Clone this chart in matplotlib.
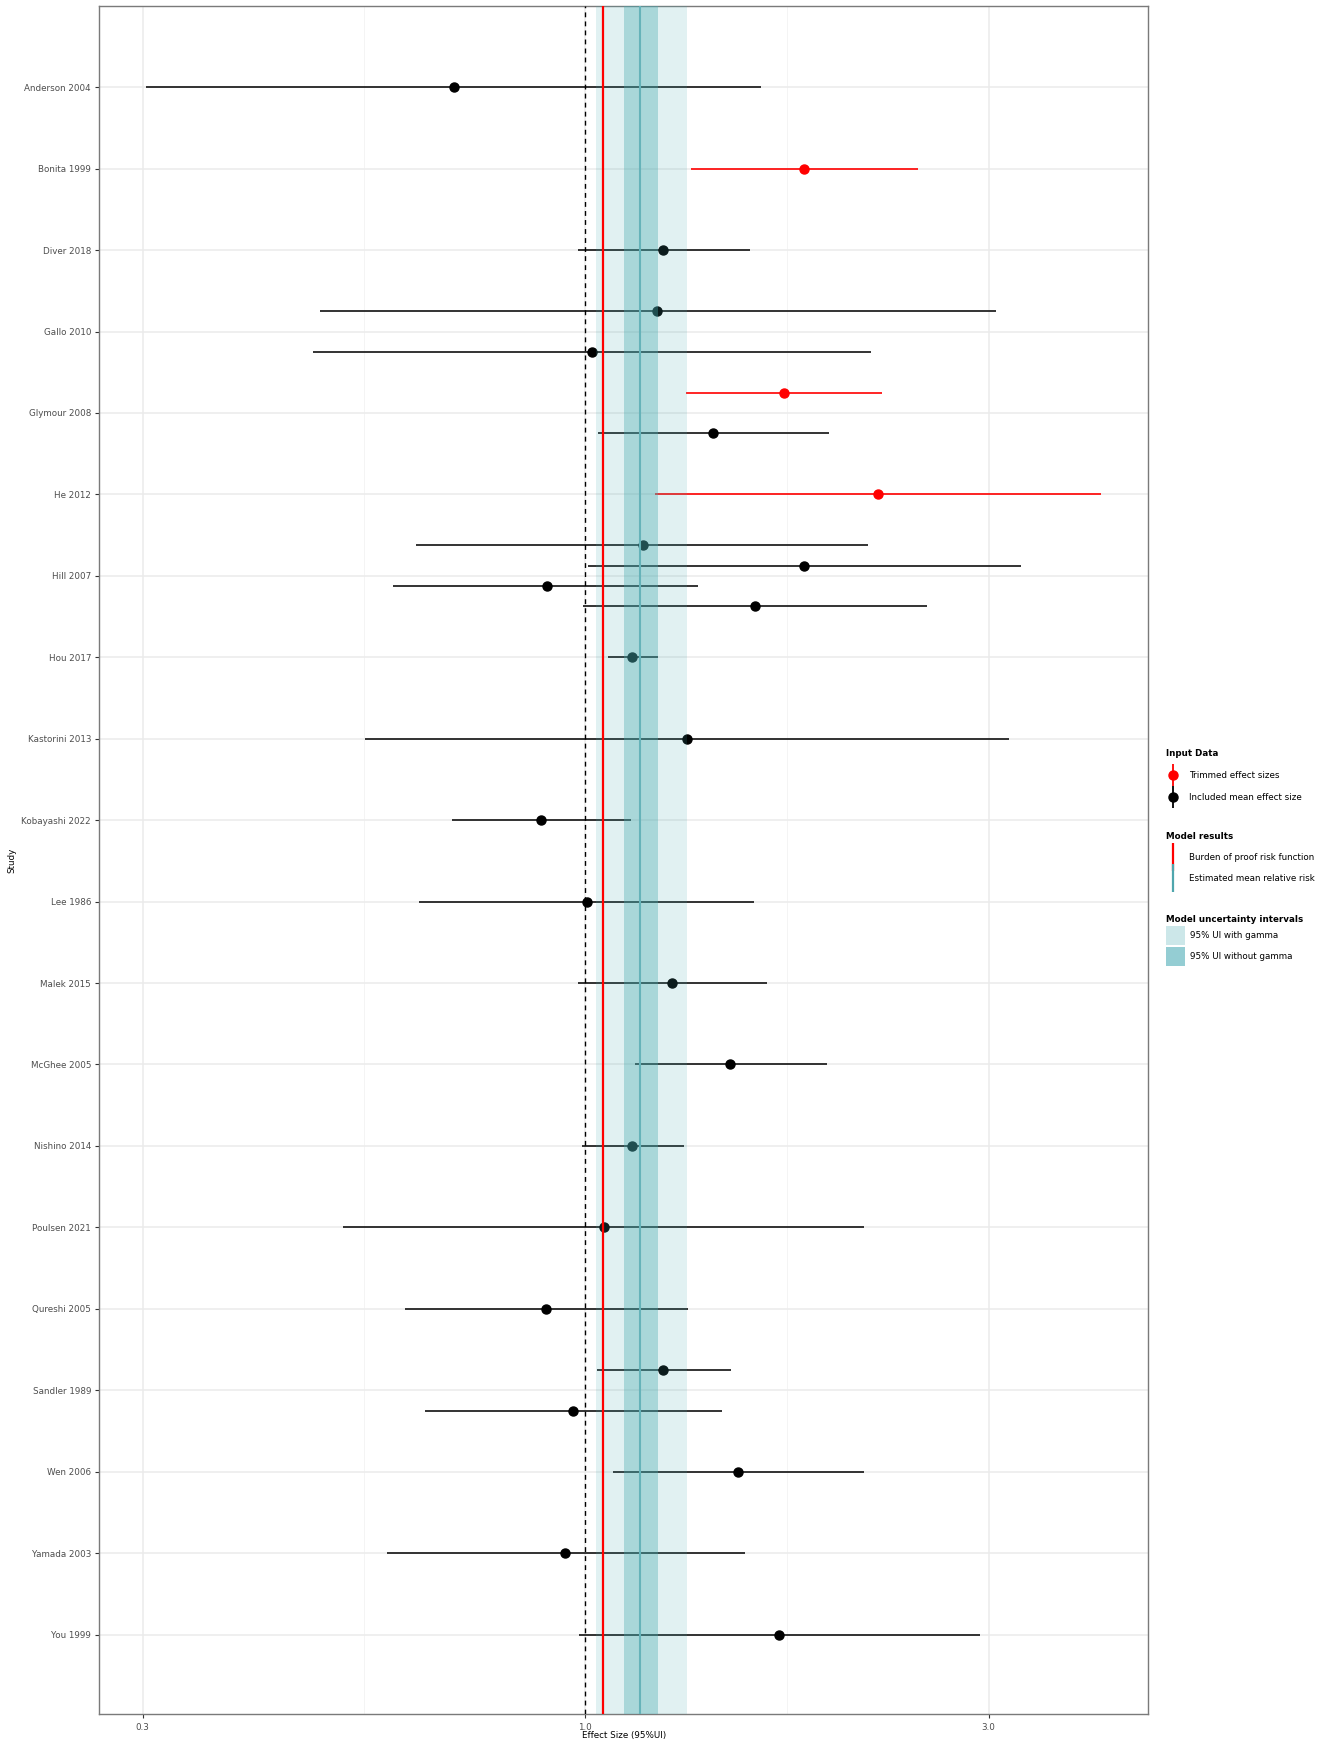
import numpy as np
import matplotlib
matplotlib.use('Agg')
import matplotlib.pyplot as plt
from matplotlib.lines import Line2D
from matplotlib.patches import Patch

# studies, top to bottom
studies = ['Anderson 2004', 'Bonita 1999', 'Diver 2018', 'Gallo 2010', 'Glymour 2008',
           'He 2012', 'Hill 2007', 'Hou 2017', 'Kastorini 2013', 'Kobayashi 2022',
           'Lee 1986', 'Malek 2015', 'McGhee 2005', 'Nishino 2014', 'Poulsen 2021',
           'Qureshi 2005', 'Sandler 1989', 'Wen 2006', 'Yamada 2003', 'You 1999']

# one entry per effect size (several per study for Gallo, Glymour, Hill, Sandler)
effect_study = ['Anderson 2004', 'Bonita 1999', 'Diver 2018',
                'Gallo 2010', 'Gallo 2010',
                'Glymour 2008', 'Glymour 2008',
                'He 2012',
                'Hill 2007', 'Hill 2007', 'Hill 2007', 'Hill 2007',
                'Hou 2017', 'Kastorini 2013', 'Kobayashi 2022', 'Lee 1986',
                'Malek 2015', 'McGhee 2005', 'Nishino 2014', 'Poulsen 2021',
                'Qureshi 2005',
                'Sandler 1989', 'Sandler 1989',
                'Wen 2006', 'Yamada 2003', 'You 1999']
effect_mean = [0.700, 1.814, 1.238,
               1.218, 1.018,
               1.718, 1.418,
               2.218,
               1.170, 1.817, 0.901, 1.588,
               1.138, 1.320, 0.888, 1.006,
               1.268, 1.486, 1.138, 1.052,
               0.899,
               1.238, 0.969,
               1.517, 0.948, 1.696]
effect_lower = [0.303, 1.335, 0.980,
                0.486, 0.477,
                1.315, 1.035,
                1.209,
                0.631, 1.009, 0.593, 0.996,
                1.064, 0.549, 0.696, 0.637,
                0.980, 1.147, 0.993, 0.517,
                0.612,
                1.032, 0.647,
                1.078, 0.583, 0.984]
effect_upper = [1.614, 2.476, 1.565,
                3.060, 2.178,
                2.247, 1.945,
                4.076,
                2.162, 3.280, 1.362, 2.535,
                1.220, 3.168, 1.134, 1.585,
                1.641, 1.931, 1.311, 2.138,
                1.325,
                1.489, 1.452,
                2.138, 1.548, 2.930]
trimmed = [False, True, False,
           False, False,
           True, False,
           True,
           False, False, False, False,
           False, False, False, False,
           False, False, False, False,
           False,
           False, False,
           False, False, False]

# model results
bopr_rr = 1.05
mean_rr = 1.161
ui_gamma = (1.031, 1.320)
ui_no_gamma = (1.111, 1.221)

plt.rcParams['font.family'] = 'DejaVu Sans'
fs = 6.3

fig = plt.figure(figsize=(13.33, 17.44), dpi=100)
ax = fig.add_axes([0.0746, 0.0170, 0.7866, 0.9797])

# dodge effects that share a study row
study_pos = {s: i + 1 for i, s in enumerate(studies)}
ypos = []
for i, s in enumerate(effect_study):
    members = [j for j, t in enumerate(effect_study) if t == s]
    n = len(members)
    k = members.index(i)
    ypos.append(study_pos[s] + (k - (n - 1) / 2.0) / n)
ypos = np.array(ypos)

for y, m, lo, hi, tr in zip(ypos, effect_mean, effect_lower, effect_upper, trimmed):
    col = 'red' if tr else '#111111'
    ax.hlines(y, lo, hi, color=col, lw=1.2, zorder=3)
    ax.plot(m, y, 'o', color='red' if tr else 'black', ms=6.5, zorder=3.5)

# uncertainty bands go over the data, semi transparent
teal = (70 / 255., 170 / 255., 175 / 255.)
ax.axvspan(ui_gamma[0], ui_gamma[1], color=teal, alpha=0.16, lw=0, zorder=4)
ax.axvspan(ui_no_gamma[0], ui_no_gamma[1], color=teal, alpha=0.36, lw=0, zorder=5)
ax.axvline(mean_rr, color='#66b3b9', lw=1.5, zorder=6)
ax.axvline(bopr_rr, color='red', lw=1.6, zorder=7)
ax.axvline(1.0, color='black', lw=1.0, ls=(0, (3.5, 3)), zorder=7)

ax.set_xscale('log')
ax.set_xlim(0.2667, 4.63)
ax.set_xticks([0.3, 1.0, 3.0])
ax.set_xticklabels(['0.3', '1.0', '3.0'])
ax.set_xticks([np.sqrt(0.3 * 1.0), np.sqrt(1.0 * 3.0)], minor=True)
ax.set_xticklabels([], minor=True)
ax.tick_params(axis='x', which='minor', length=0)

ax.set_yticks(range(1, len(studies) + 1))
ax.set_yticklabels(studies)
ax.set_ylim(20.98, 0.0)

ax.grid(True, which='major', color='#ebebeb', lw=1.1, zorder=0)
ax.grid(True, which='minor', axis='x', color='#f2f2f2', lw=0.6, zorder=0)
ax.set_axisbelow(True)

ax.tick_params(axis='both', which='major', labelsize=fs, labelcolor='#4d4d4d',
               color='#333333', length=3, width=0.8, pad=3)
for sp in ax.spines.values():
    sp.set_color('#7a7a7a')
    sp.set_linewidth(1.0)

ax.set_xlabel('Effect Size (95%UI)', fontsize=fs)
ax.xaxis.set_label_coords(0.5, -0.0095)
ax.set_ylabel('Study', fontsize=fs)
ax.yaxis.set_label_coords(-0.079, 0.5)

# legends on the right
title_font = {'weight': 'bold', 'size': fs}
h_trim = (Line2D([], [], marker='|', ms=16, mew=1.3, color='red', ls='None'),
          Line2D([], [], marker='o', ms=6.5, color='red', ls='None'))
h_incl = (Line2D([], [], marker='|', ms=16, mew=1.3, color='black', ls='None'),
          Line2D([], [], marker='o', ms=6.5, color='black', ls='None'))
fig.legend([h_trim, h_incl], ['Trimmed effect sizes', 'Included mean effect size'],
           title='Input Data', loc='upper left', bbox_to_anchor=(0.869, 0.5751),
           frameon=False, fontsize=fs, title_fontproperties=title_font,
           alignment='left', handlelength=1.6, handletextpad=1.0, labelspacing=1.5)

h_bopr = Line2D([], [], marker='|', ms=20, mew=1.6, color='red', ls='None')
h_mean = Line2D([], [], marker='|', ms=20, mew=1.6, color='#4fa6ad', ls='None')
fig.legend([h_bopr, h_mean], ['Burden of proof risk function', 'Estimated mean relative risk'],
           title='Model results', loc='upper left', bbox_to_anchor=(0.869, 0.5276),
           frameon=False, fontsize=fs, title_fontproperties=title_font,
           alignment='left', handlelength=1.6, handletextpad=1.0, labelspacing=1.4)

h_g = Patch(facecolor='#cce7e9', edgecolor='none')
h_ng = Patch(facecolor='#94cdd3', edgecolor='none')
fig.legend([h_g, h_ng], ['95% UI with gamma', '95% UI without gamma'],
           title='Model uncertainty intervals', loc='upper left', bbox_to_anchor=(0.869, 0.4799),
           frameon=False, fontsize=fs, title_fontproperties=title_font,
           alignment='left', handlelength=2.16, handleheight=2.95, handletextpad=0.6,
           labelspacing=0.25)

fig.savefig('out.png', dpi=100)
